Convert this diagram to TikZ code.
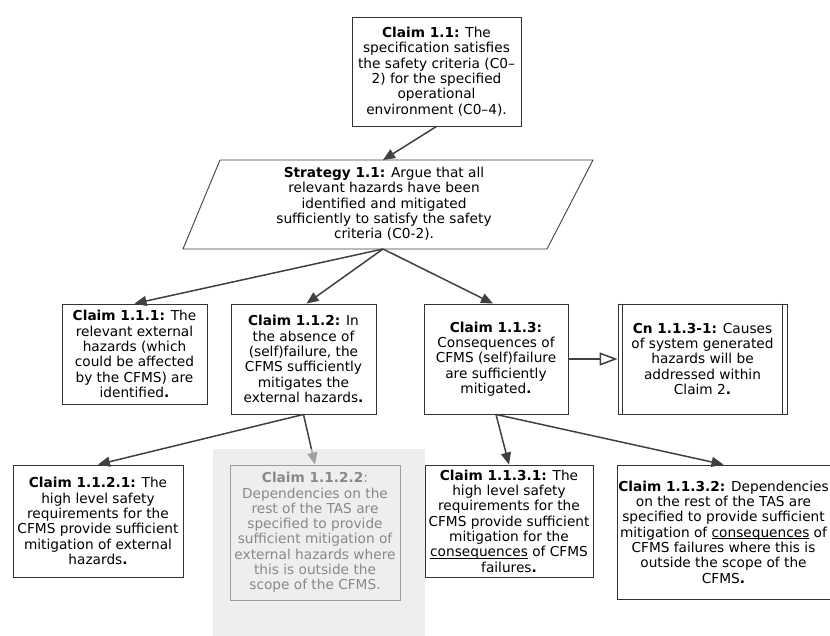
\documentclass[tikz,border=0pt]{standalone}
\usepackage{fontspec}
\setmainfont{DejaVu Sans}
\usetikzlibrary{arrows.meta}

\definecolor{edgec}{HTML}{404040}
\definecolor{boxc}{HTML}{333333}
\definecolor{veilc}{HTML}{E3E3E3}

% underline that ignores descender depth
\newcommand\ulword[1]{\underline{\smash{#1}}}

\tikzset{
  claim/.style={draw=boxc, line width=0.9pt, fill=white, inner sep=0pt,
    align=center, font=\fontsize{13.7}{15.3}\selectfont},
  txt/.style={inner sep=0pt, align=center, font=\fontsize{13.7}{15.3}\selectfont},
  link/.style={draw=edgec, line width=1.5pt, -{Triangle[length=12pt,width=10pt]}},
  ctxlink/.style={draw=edgec, line width=1.5pt,
    -{Triangle[open,length=18pt,width=13pt,fill=white]}},
  veil/.style={fill=veilc, opacity=0.6},
}

\begin{document}
\begin{tikzpicture}[x=1pt,y=-1pt]
\useasboundingbox (0,0) rectangle (830,636);

% top-level claim
\node[claim, minimum width=169pt, minimum height=109pt] (c11) at (436.5,71.5)
  {\textbf{Claim 1.1:} The\\specification satisfies\\the safety criteria (C0–\\2) for the specified\\operational\\environment (C0–4).};

% strategy (parallelogram)
\draw[draw=edgec, line width=0.9pt, fill=white] (220,160) -- (593,160) -- (547,249) -- (183,249) -- cycle;
\node[txt] (strat) at (384,204)
  {\textbf{Strategy 1.1:} Argue that all\\relevant hazards have been\\identified and mitigated\\sufficiently to satisfy the safety\\criteria (C0-2).};
\coordinate (strattop) at (383,160);
\coordinate (stratfoot) at (383,249);

% second level
\node[claim, minimum width=145pt, minimum height=100pt] (c111) at (134.5,354)
  {\textbf{Claim 1.1.1:} The\\relevant external\\hazards (which\\could be affected\\by the CFMS) are\\identified\textbf{.}};
\node[claim, minimum width=145pt, minimum height=110pt] (c112) at (303.5,359)
  {\textbf{Claim 1.1.2:} In\\the absence of\\(self)failure, the\\CFMS sufficiently\\mitigates the\\external hazards\textbf{.}};
\node[claim, minimum width=144pt, minimum height=110pt] (c113) at (496,359)
  {\textbf{Claim 1.1.3:}\\Consequences of\\CFMS (self)failure\\are sufficiently\\mitigated\textbf{.}};

% context with double side bars
\node[claim, minimum width=169pt, minimum height=110pt] (cn) at (702.5,359)
  {\textbf{Cn 1.1.3-1:} Causes\\of system generated\\hazards will be\\addressed within\\Claim 2\textbf{.}};
\draw[draw=boxc, line width=0.9pt] ([xshift=5pt]cn.north west) -- ([xshift=5pt]cn.south west);
\draw[draw=boxc, line width=0.9pt] ([xshift=-5pt]cn.north east) -- ([xshift=-5pt]cn.south east);

% third level
\node[claim, minimum width=170pt, minimum height=112pt] (c1121) at (98,521)
  {\textbf{Claim 1.1.2.1:} The\\high level safety\\requirements for the\\CFMS provide sufficient\\mitigation of external\\hazards\textbf{.}};
\node[claim, minimum width=170pt, minimum height=135pt] (c1122) at (315,532.5)
  {\textbf{Claim 1.1.2.2}:\\Dependencies on the\\rest of the TAS are\\specified to provide\\sufficient mitigation of\\external hazards where\\this is outside the\\scope of the CFMS.};
\node[claim, minimum width=168pt, minimum height=112pt] (c1131) at (509,521)
  {\textbf{Claim 1.1.3.1:} The\\high level safety\\requirements for the\\CFMS provide sufficient\\mitigation for the\\\ulword{consequences} of CFMS\\failures\textbf{.}};
\node[claim, minimum width=213pt, minimum height=134pt] (c1132) at (723.5,532)
  {\textbf{Claim 1.1.3.2:} Dependencies\\on the rest of the TAS are\\specified to provide sufficient\\mitigation of \ulword{consequences} of\\CFMS failures where this is\\outside the scope of the\\CFMS\textbf{.}};

% connectors
\draw[link] (c11.south) -- (strattop);
\draw[link] (stratfoot) -- (c111.north);
\draw[link] (stratfoot) -- ([xshift=3pt]c112.north);
\draw[link] (stratfoot) -- ([xshift=-3pt]c113.north);
\draw[link] (c112.south) -- (c1121.north);
\draw[link] (c112.south) -- (c1122.north);
\draw[link] (c113.south) -- (c1131.north);
\draw[link] (c113.south) -- (c1132.north);
\draw[ctxlink] (c113.east) -- (cn.west);

% greyed-out branch
\fill[veil] (213,449) rectangle (425,640);
\end{tikzpicture}
\end{document}
